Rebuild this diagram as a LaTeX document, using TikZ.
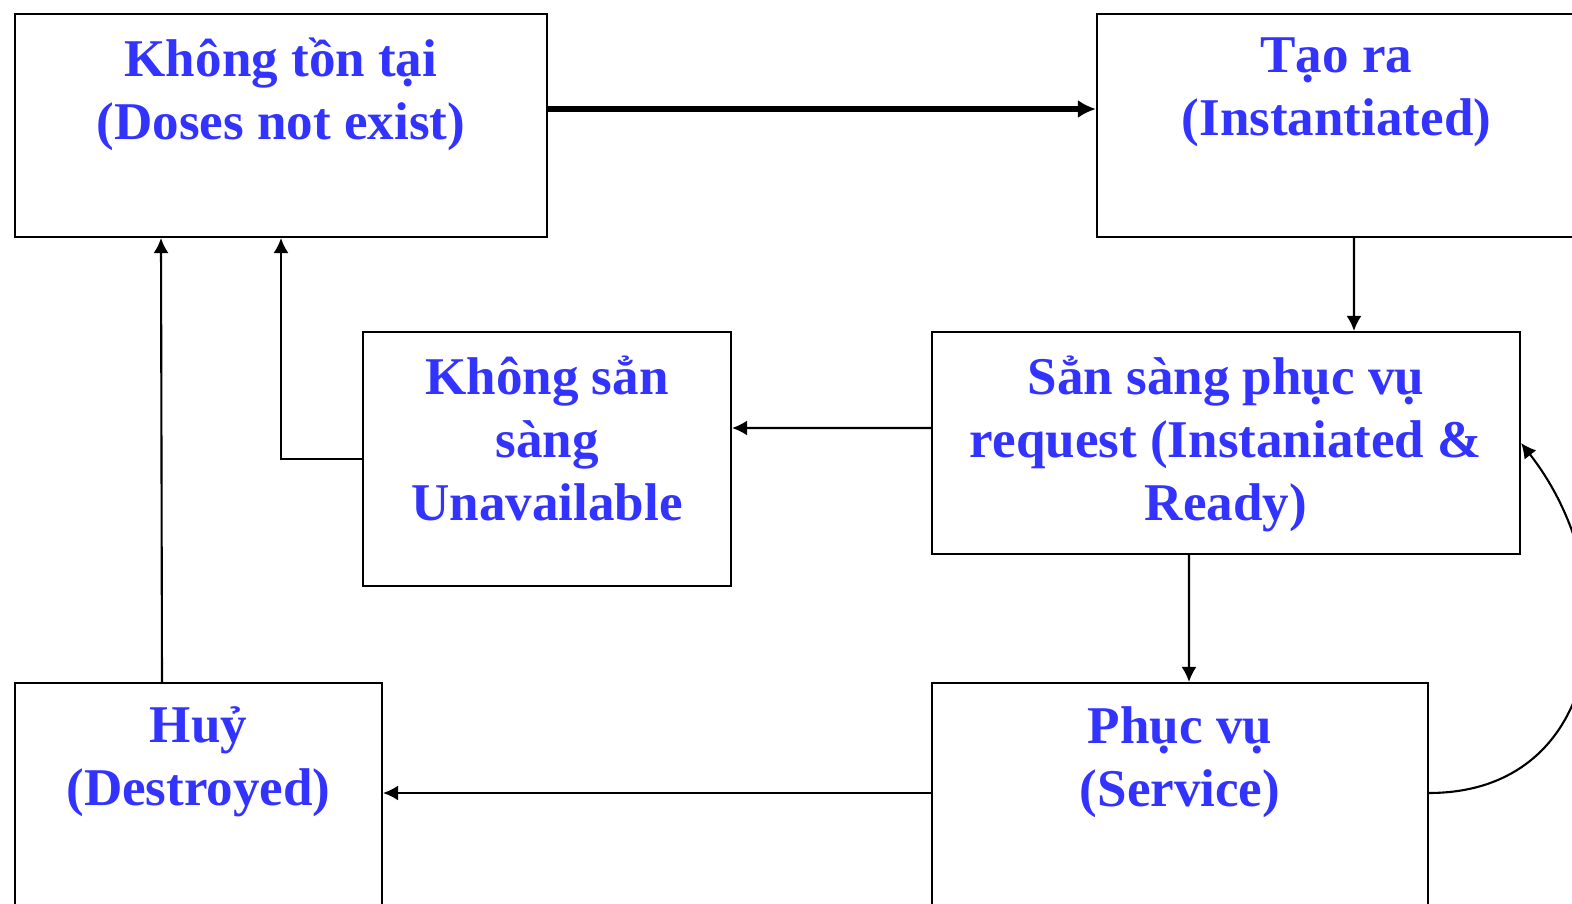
\documentclass[tikz,border=0pt]{standalone}
\usepackage{fontspec}
\setmainfont{Liberation Serif}
\usepackage{tikz}
\usetikzlibrary{arrows.meta,positioning}
\usepackage{xcolor}
\definecolor{stateblue}{RGB}{51,51,255}

\tikzset{
  statebox/.style={draw, line width=0.6pt, rectangle, inner sep=0pt},
  statetext/.style={anchor=north, align=center, inner sep=0pt, text=stateblue,
    font=\bfseries\fontsize{15.1}{17.9}\selectfont,
    execute at begin node={\rule{0pt}{15pt}}},
  flow/.style={line width=0.6pt, -{Latex[length=0.15cm,width=0.15cm]}},
  bigflow/.style={line width=1.5pt, -{Latex[length=0.18cm,width=0.18cm]}}
}

\begin{document}
\begin{tikzpicture}
    \useasboundingbox (0,0) rectangle (15.72,-9.04);
    \clip (0,0) rectangle (15.72,-9.04);

    \coordinate (NX) at (2.81, -1.255);
    \coordinate (IN) at (13.365, -1.255);
    \coordinate (UA) at (5.47, -4.59);
    \coordinate (RD) at (12.26, -4.43);
    \coordinate (DE) at (1.985, -7.94);
    \coordinate (SV) at (11.80, -7.94);

    \node [statebox, minimum width=5.32cm, minimum height=2.23cm] (NXB) at (NX) {};
    \node [statebox, minimum width=4.79cm, minimum height=2.23cm] (INB) at (IN) {};
    \node [statebox, minimum width=3.68cm, minimum height=2.54cm] (UAB) at (UA) {};
    \node [statebox, minimum width=5.88cm, minimum height=2.22cm] (RDB) at (RD) {};
    \node [statebox, minimum width=3.67cm, minimum height=2.22cm] (DEB) at (DE) {};
    \node [statebox, minimum width=4.96cm, minimum height=2.22cm] (SVB) at (SV) {};

    \node [statetext, below=0.24cm of NXB.north] {Không tồn tại\\(Doses not exist)};
    \node [statetext, below=0.24cm of INB.north] {Tạo ra\\(Instantiated)};
    \node [statetext, below=0.24cm of UAB.north] {Không sẳn\\sàng\\Unavailable};
    \node [statetext, below=0.24cm of RDB.north] {Sẳn sàng phục vụ\\request (Instaniated \&\\Ready)};
    \node [statetext, below=0.24cm of DEB.north] {Huỷ\\(Destroyed)};
    \node [statetext, below=0.24cm of SVB.north] {Phục vụ\\(Service)};

    \draw [bigflow] ([yshift=0.165cm]NXB.east) to ([yshift=0.165cm]INB.west);
    \draw [flow] ([xshift=0.175cm]INB.south) to ([xshift=1.28cm]RDB.north);
    \draw [flow] ([yshift=0.15cm]RDB.west) to ([yshift=0.31cm]UAB.east);
    \draw [flow] (UAB.west) -| (NXB.south);
    \draw [flow] ([xshift=-0.37cm]RDB.south) to ([xshift=0.09cm]SVB.north);
    \draw [flow] ([yshift=0.01cm]SVB.west) to ([yshift=0.01cm]DEB.east);
    \draw [flow] ([xshift=-0.365cm]DEB.north) to ([xshift=-1.2cm]NXB.south);
    \draw [flow] ([yshift=0.01cm]SVB.east) to [out=0, in=-52, looseness=1.25] (RDB.east);
  \end{tikzpicture}
\end{document}
